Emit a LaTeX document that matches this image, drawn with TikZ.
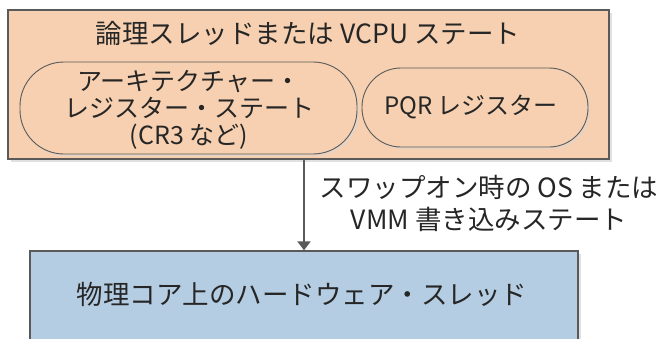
\documentclass[tikz,border=0pt]{standalone}
\usepackage{fontspec}
\setmainfont{Noto Sans CJK JP}
\usetikzlibrary{arrows.meta,shadows}
\definecolor{peach}{RGB}{246,208,176}
\definecolor{paleblue}{RGB}{180,205,226}
\definecolor{edge}{RGB}{90,90,90}
\tikzset{
  box/.style={draw=edge, line width=1.3pt, inner sep=0pt,
    drop shadow={shadow xshift=3pt, shadow yshift=-3pt, fill=black!20, opacity=0.6}},
  topbox/.style={box, fill=peach},
  botbox/.style={box, fill=paleblue},
  pill/.style={draw=edge, line width=0.9pt, fill=peach, inner sep=0pt,
    drop shadow={shadow xshift=2pt, shadow yshift=-2pt, fill=black!15, opacity=0.5}},
  txt/.style={font=\fontsize{26.5}{31}\selectfont, align=center, inner sep=0pt, text=black!85},
  arr/.style={draw=edge, line width=2pt, -{Triangle[width=13pt,length=9pt]}}
}
\begin{document}
\begin{tikzpicture}[x=1pt,y=-1pt]
\useasboundingbox (0,0) rectangle (658,338);
\node[topbox, minimum width=601pt, minimum height=149pt] (top) at (308.5,84.5) {};
\node[txt] (title) at (308,33) {論理スレッドまたは VCPU ステート};
\node[pill, rounded corners=44pt, minimum width=337pt, minimum height=92pt] (arch) at (188.5,108) {};
\node[txt, font=\fontsize{25}{27}\selectfont] (archt) at (189,110) {アーキテクチャー・\\レジスター・ステート\\(CR3 など)};
\node[pill, rounded corners=39pt, minimum width=226pt, minimum height=79pt] (pqr) at (475,107.5) {};
\node[txt, font=\fontsize{24}{26}\selectfont] (pqrt) at (471,107) {PQR レジスター};
\node[botbox, minimum width=548pt, minimum height=120pt] (bot) at (304,311) {};
\node[txt] (bott) at (302,294) {物理コア上のハードウェア・スレッド};
\draw[arr] (bot.north |- top.south) -- (bot.north);
\node[txt, font=\fontsize{26.5}{32}\selectfont] (lab) at (489,203) {スワップオン時の OS または\\VMM 書き込みステート};
\end{tikzpicture}
\end{document}
